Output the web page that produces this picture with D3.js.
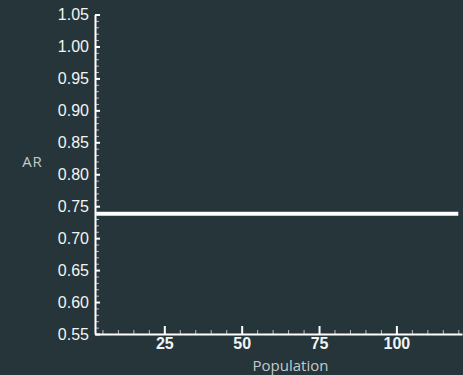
<!DOCTYPE html>
<html>
<head>
<meta charset="utf-8">
<script src="https://cdn.jsdelivr.net/npm/d3@7/dist/d3.min.js"></script>
<style>
  html, body { margin: 0; padding: 0; background: #25353a; }
  svg { display: block; }
</style>
</head>
<body>
<svg id="chart" width="463" height="375"></svg>
<script>
// Data
const population = [3, 120];
const arValues = [0.738, 0.738];
const yMajorTicks = [0.55, 0.60, 0.65, 0.70, 0.75, 0.80, 0.85, 0.90, 0.95, 1.00, 1.05];
const xMajorTicks = [25, 50, 75, 100];
const xDomain = [2.6, 121.2];
const yDomain = [0.55, 1.05];

const svg = d3.select("#chart");
const W = 463, H = 375;
svg.append("rect").attr("width", W).attr("height", H).attr("fill", "#25353a");

const mLeft = 95, mRight = 462, mTop = 14.5, mBottom = 334;

const x = d3.scaleLinear().domain(xDomain).range([mLeft, mRight]);
const y = d3.scaleLinear().domain(yDomain).range([mBottom, mTop]);

// minor ticks
const yMinor = d3.range(0.55, 1.0501, 0.01).map(v => +v.toFixed(2)).filter(v => !yMajorTicks.some(m => Math.abs(m - v) < 1e-6));
const xMinor = d3.range(5, 121, 5).filter(v => !xMajorTicks.includes(v));

const gyMinor = svg.append("g").attr("transform", `translate(${mLeft},0)`)
  .call(d3.axisLeft(y).tickValues(yMinor).tickSize(-4).tickSizeOuter(0).tickFormat(""));
gyMinor.select(".domain").remove();
gyMinor.selectAll("line").attr("stroke", "#b8bfc1").attr("stroke-width", 1);

const gxMinor = svg.append("g").attr("transform", `translate(0,${mBottom})`)
  .call(d3.axisBottom(x).tickValues(xMinor).tickSize(-4).tickSizeOuter(0).tickFormat(""));
gxMinor.select(".domain").remove();
gxMinor.selectAll("line").attr("stroke", "#b8bfc1").attr("stroke-width", 1);

// major y axis
const gy = svg.append("g").attr("transform", `translate(${mLeft},0)`)
  .call(d3.axisLeft(y).tickValues(yMajorTicks).tickSize(-5).tickSizeOuter(0).tickPadding(6).tickFormat(d3.format(".2f")));
gy.select(".domain").attr("stroke", "#ffffff").attr("stroke-width", 2);
gy.selectAll("line").attr("stroke", "#ffffff").attr("stroke-width", 2);
gy.selectAll("text").attr("fill", "#f2f4f4").attr("font-family", "'Liberation Sans', Arial, sans-serif").attr("font-size", 16);

// major x axis
const gx = svg.append("g").attr("transform", `translate(0,${mBottom})`)
  .call(d3.axisBottom(x).tickValues(xMajorTicks).tickSize(-8).tickSizeOuter(0).tickPadding(4));
gx.select(".domain").attr("stroke", "#ffffff").attr("stroke-width", 2);
gx.selectAll("line").attr("stroke", "#ffffff").attr("stroke-width", 2);
gx.selectAll("text").attr("fill", "#f2f4f4").attr("font-family", "'Liberation Sans', Arial, sans-serif").attr("font-size", 16).attr("font-weight", "bold");

// line
const line = d3.line().x((d, i) => x(population[i])).y(d => y(d));
svg.append("path").datum(arValues).attr("d", line)
  .attr("fill", "none").attr("stroke", "#ffffff").attr("stroke-width", 4);

// titles
svg.append("text").attr("x", 32.5).attr("y", 166.5).attr("text-anchor", "middle")
  .attr("fill", "#c4cacb").attr("font-family", "'Open Sans', sans-serif").attr("font-size", 15)
  .attr("letter-spacing", 1).text("AR");
svg.append("text").attr("x", 290.5).attr("y", 370.5).attr("text-anchor", "middle")
  .attr("fill", "#c4cacb").attr("font-family", "'Open Sans', sans-serif").attr("font-size", 15).text("Population");
</script>
</body>
</html>
